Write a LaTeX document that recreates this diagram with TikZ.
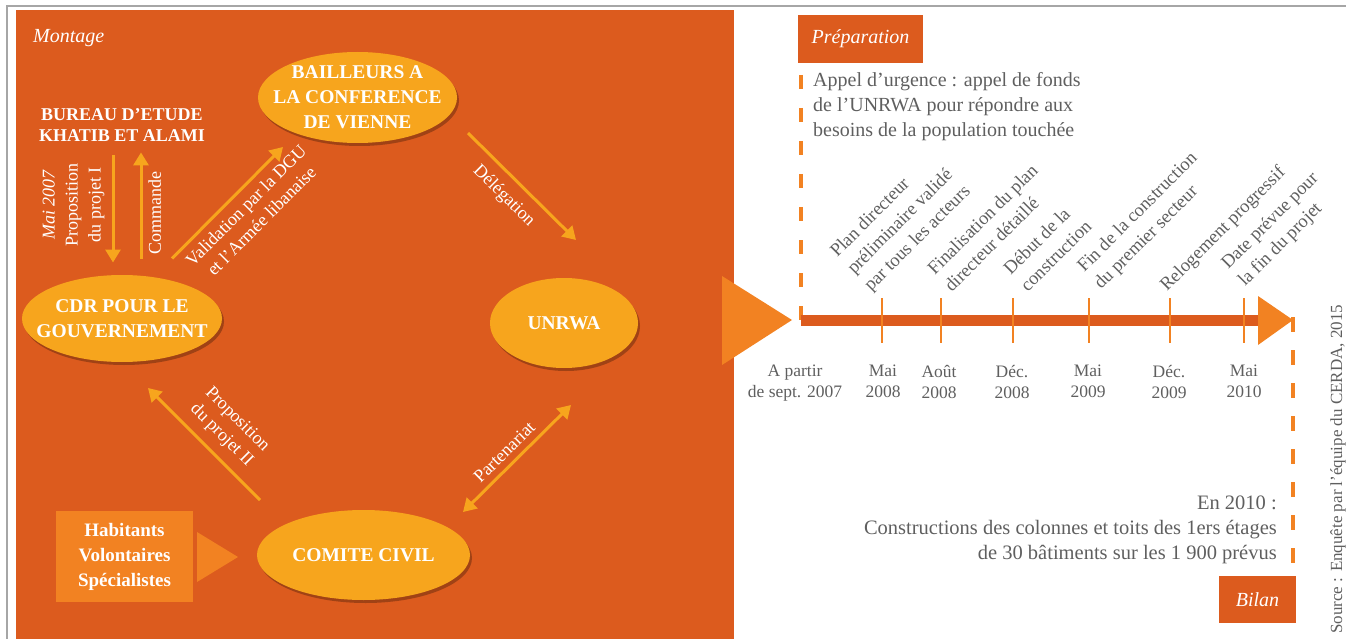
\documentclass[tikz,border=0pt]{standalone}
\usepackage{fontspec}
\setmainfont{Liberation Serif}
\usetikzlibrary{arrows.meta,positioning,shapes,shadows}
\definecolor{fond}{RGB}{220,91,30}
\definecolor{jaune}{RGB}{247,165,29}
\definecolor{clair}{RGB}{242,130,34}
\definecolor{gris}{RGB}{95,95,95}

\begin{document}
\begin{tikzpicture}[>={Triangle[length=13pt,width=15pt]},x=1pt,y=-1pt]
\tikzstyle{bulle}=[ellipse,fill=jaune,inner sep=-20pt,text=white,align=center,font=\bfseries\fontsize{19.5}{25}\selectfont,drop shadow={shadow xshift=2pt,shadow yshift=-3pt,opacity=0.45,fill=black!60!fond}]
\tikzstyle{fleche}=[->,draw=jaune,line width=3pt]
\tikzstyle{etiq}=[text=white,align=center,inner sep=4pt,font=\fontsize{18}{22}\selectfont]
\tikzstyle{date}=[text=gris,align=center,anchor=north,inner sep=0,font=\fontsize{17.5}{21}\selectfont]
\tikzstyle{evt}=[text=gris,align=left,anchor=south west,rotate=45,inner sep=0,font=\fontsize{18.5}{24}\selectfont]
\tikzstyle{tiret}=[draw=clair,line width=4pt,dash pattern=on 14pt off 19pt]
\tikzstyle{cartouche}=[fill=fond,text=white,font=\itshape\fontsize{20}{24}\selectfont]
\tikzstyle{texte}=[text=gris,inner sep=0,font=\fontsize{20}{25}\selectfont]

\useasboundingbox (0,0) rectangle (1346,639);
\draw[black!35,line width=1.2pt] (7,639) -- (7,6) -- (1346,6);
\fill[fond] (16,10) rectangle (734,639);

% montage
\node[anchor=base west,inner sep=0,text=white,font=\itshape\fontsize{20}{24}\selectfont] (T) at (33,43) {Montage};
\node[anchor=north,inner sep=0,text=white,align=center,font=\bfseries\fontsize{18}{21}\selectfont] (K) at (122,108) {BUREAU D’ETUDE\\KHATIB ET ALAMI};
\node[bulle,minimum width=199pt,minimum height=91pt] (B) at (357.5,97.5) {BAILLEURS A\\LA CONFERENCE\\DE VIENNE};
\node[bulle,minimum width=200pt,minimum height=87pt] (C) at (122,318.5) {CDR POUR LE\\GOUVERNEMENT};
\node[bulle,minimum width=148pt,minimum height=90pt] (U) at (564,323) {UNRWA};
\node[bulle,minimum width=213pt,minimum height=90pt] (M) at (363.5,555) {COMITE CIVIL};
\node[fill=clair,minimum width=137pt,minimum height=91pt,text=white,align=center,font=\bfseries\fontsize{19}{25}\selectfont] (H) at (124.5,556.5) {Habitants\\Volontaires\\Spécialistes};
\fill[clair] (197,532) -- (197,582) -- (238,557) -- cycle;
\fill[clair] (722,276) -- (722,365) -- (792,320) -- cycle;

\path
([shift={(-9,14)}]K.south) edge[fleche] node[etiq,rotate=90,anchor=south,inner sep=7pt,pos=0.46,font=\fontsize{18}{23}\selectfont] {\textit{Mai 2007}\\Proposition\\du projet I} ([shift={(-9,-56)}]C.center)
([shift={(19,-60)}]C.center) edge[fleche] node[etiq,rotate=90,anchor=north,inner sep=6pt,pos=0.43] {Commande} ([shift={(19,11)}]K.south)
([shift={(50,-60)}]C.center) edge[fleche] node[etiq,sloped,below,inner sep=7pt,pos=0.57] {Validation par la DGU\\et l’Armée libanaise} ([shift={(-74.5,49.5)}]B.center)
([shift={(110.5,35.5)}]B.center) edge[fleche] node[etiq,sloped,below,inner sep=10pt,pos=0.46] {Délégation} ([shift={(12,-83)}]U.center)
([shift={(-103.5,-55)}]M.center) edge[fleche] node[etiq,sloped,above,inner sep=9pt,pos=0.46] {Proposition\\du projet II} ([shift={(26,69.5)}]C.center)
([shift={(99.5,-43)}]M.center) edge[fleche,<->] node[etiq,sloped,above,inner sep=6pt,pos=0.47] {Partenariat} ([shift={(7,82)}]U.center)
;

% calendrier
\node[cartouche,minimum width=125pt,minimum height=48pt] (P) at (860.5,39) {Préparation};
\node[texte,anchor=north west,align=left] (A) at (813,72) {Appel d’urgence : appel de fonds\\de l’UNRWA pour répondre aux\\besoins de la population touchée};
\coordinate (Dh) at (801,75);
\coordinate (D) at (801,320);
\coordinate (F) at (1262,320);
\draw[tiret] (Dh) -- (D);
\draw[fond,line width=11pt] (D) -- (F);
\fill[clair] (1258,296) -- (1258,345) -- (1293,320) -- cycle;
\draw[clair,line width=2.5pt] (882,298) -- (882,343);
\draw[clair,line width=2.5pt] (941,298) -- (941,343);
\draw[clair,line width=2.5pt] (1013,298) -- (1013,343);
\draw[clair,line width=2.5pt] (1089,298) -- (1089,343);
\draw[clair,line width=2.5pt] (1170,298) -- (1170,343);
\draw[clair,line width=2.5pt] (1244,298) -- (1244,343);

\node[date] (d1) at (795,365) {A partir\\de sept. 2007};
\node[date] (d2) at (883,365) {Mai\\2008};
\node[date] (d3) at (939,365) {Août\\2008};
\node[date] (d4) at (1012,365) {Déc.\\2008};
\node[date] (d5) at (1088,365) {Mai\\2009};
\node[date] (d6) at (1169,365) {Déc.\\2009};
\node[date] (d7) at (1244,365) {Mai\\2010};

\node[evt] (e1) at (874,295) {Plan directeur\\préliminaire validé\\par tous les acteurs};
\node[evt] (e2) at (952,293) {Finalisation du plan\\directeur détaillé};
\node[evt] (e3) at (1028,293) {Début de la\\construction};
\node[evt] (e4) at (1104,293) {Fin de la construction\\du premier secteur};
\node[evt] (e5) at (1170,295) {Relogement progressif};
\node[evt] (e6) at (1248,290) {Date prévue pour\\la fin du projet};

% bilan
\coordinate (G) at (1293,317);
\coordinate (Gb) at (1293,566);
\draw[tiret,dash pattern=on 15pt off 18pt] (G) -- (Gb);
\node[texte,anchor=north east,align=right,font=\fontsize{20.5}{25}\selectfont] (R) at (1277,496) {En 2010 :\\Constructions des colonnes et toits des 1ers étages\\de 30 bâtiments sur les 1 900 prévus};
\node[cartouche,minimum width=77pt,minimum height=47pt] (L) at (1257.5,599.5) {Bilan};
\node[rotate=90,anchor=west,inner sep=0,text=gris,font=\fontsize{17}{19}\selectfont] (S) at (1338,634) {Source : Enquête par l’équipe du CERDA, 2015};
\end{tikzpicture}
\end{document}
